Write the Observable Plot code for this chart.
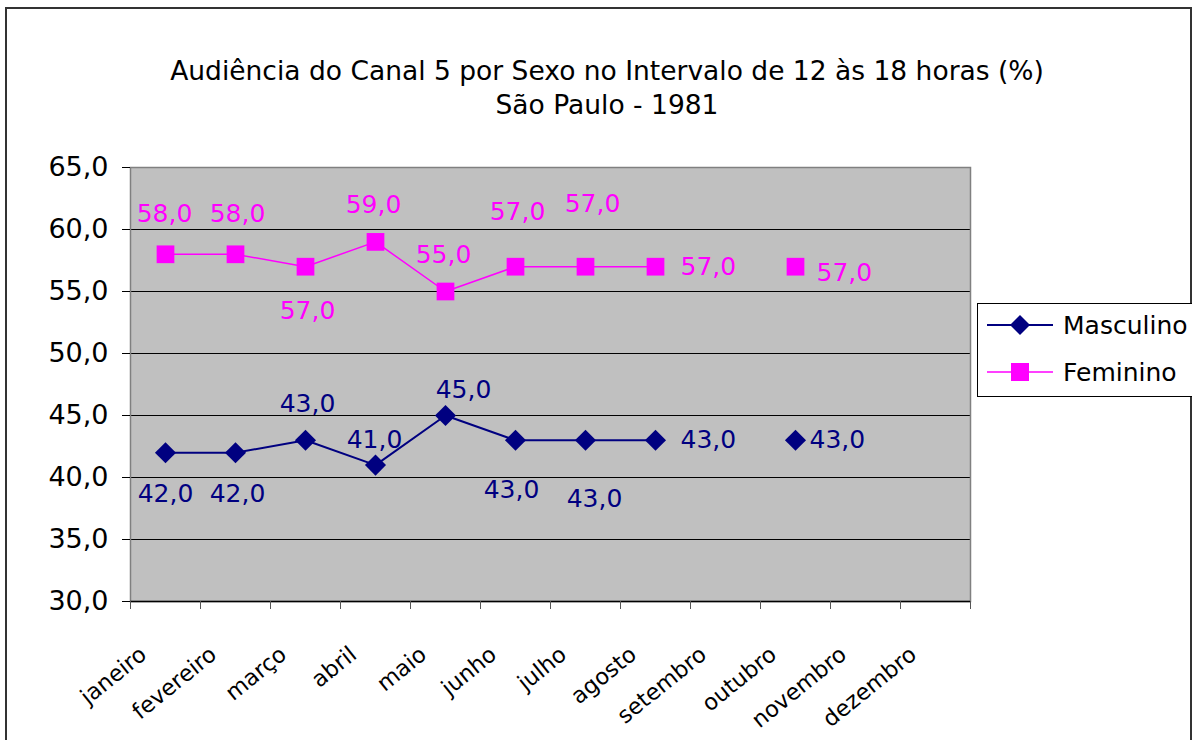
<!DOCTYPE html>
<html>
<head>
<meta charset="utf-8">
<script src="https://cdn.jsdelivr.net/npm/d3@7"></script>
<script src="https://cdn.jsdelivr.net/npm/@observablehq/plot@0.6"></script>
<style>
  body { margin: 0; background: #fff; font-family: "DejaVu Sans", sans-serif; }
  #wrap { position: relative; width: 1192px; height: 740px; overflow: hidden; }
  #border { position: absolute; left: 5px; top: 7px; width: 1183px; height: 800px; border: 2px solid #333; }
  #title { position: absolute; left: 0; width: 1214px; top: 54px; text-align: center; font-size: 26.5px; line-height: 34px; color: #000; }
  #chart { position: absolute; left: 0; top: 0; }
  #legend { position: absolute; left: 977px; top: 303px; width: 220px; height: 92px; border: 1.5px solid #000; background: #fff; }
</style>
</head>
<body>
<div id="wrap">
  <div id="border"></div>
  <div id="chart"></div>
  <div id="title">Audiência do Canal 5 por Sexo no Intervalo de 12 às 18 horas (%)<br>São Paulo - 1981</div>
  <div id="legend"></div>
</div>
<script>
const months = ["janeiro","fevereiro","março","abril","maio","junho","julho","agosto","setembro","outubro","novembro","dezembro"];
const masculino = [42,42,43,41,45,43,43,43,null,43,null,null];
const feminino  = [58,58,57,59,55,57,57,57,null,57,null,null];
const yTicks = [30,35,40,45,50,55,60,65];
const seriesNames = ["Masculino","Feminino"];
const seriesColors = ["#000080","#FF00FF"];

// label placement offsets (dx, dy, anchor), as Excel placed them
const labelPlaceM = [[0,41,"middle"],[2,41,"middle"],[2,-36,"middle"],[-1,-25,"middle"],[18,-26,"middle"],[-4,50,"middle"],[9,59,"middle"],[25,0,"start"],null,[14,0,"start"],null,null];
const labelPlaceF = [[-1,-40,"middle"],[2,-40,"middle"],[2,44,"middle"],[-2,-37,"middle"],[-2,-37,"middle"],[2,-55,"middle"],[7,-63,"middle"],[25,0,"start"],null,[21,6,"start"],null,null];

const fmt = v => v.toFixed(1).replace(".", ",");
const mk = arr => arr.map((v, i) => ({i: i + 0.5, v}));
const dataM = mk(masculino);
const dataF = mk(feminino);

const marks = [
  Plot.frame({fill: "#C0C0C0"}),
  Plot.ruleY(yTicks.filter(v => v > 30), {stroke: "#000", strokeWidth: 1}),
  Plot.frame({stroke: "#808080", strokeWidth: 1.5}),
  Plot.ruleY([30], {stroke: "#000", strokeWidth: 1.5}),
  Plot.axisY({ticks: yTicks, tickSize: 8, tickPadding: 14, tickFormat: fmt, fontSize: 27, stroke: "#000", fill: "#000", label: null}),
  Plot.axisX({ticks: d3.range(0, 13), tickSize: 8, tickFormat: () => "", stroke: "#555", label: null}),
  Plot.text(months.map((m, i) => ({i: i + 0.5, m})), {x: "i", y: () => 30, text: "m", rotate: -39, textAnchor: "end", dx: -22, dy: 50, fontSize: 22.5, fill: "#000"}),
  Plot.line(dataM, {x: "i", y: "v", stroke: seriesColors[0], strokeWidth: 2}),
  Plot.line(dataF, {x: "i", y: "v", stroke: seriesColors[1], strokeWidth: 1.5}),
  Plot.dot(dataM.filter(d => d.v != null), {x: "i", y: "v", symbol: "diamond2", r: 9.5, fill: seriesColors[0], stroke: null}),
  Plot.dot(dataF.filter(d => d.v != null), {x: "i", y: "v", symbol: "square", r: 10, fill: seriesColors[1], stroke: null})
];

function addLabels(data, place, color) {
  data.forEach((d, k) => {
    const p = place[k];
    if (d.v == null || !p) return;
    marks.push(Plot.text([d], {x: "i", y: "v", text: dd => fmt(dd.v), dx: p[0], dy: p[1], textAnchor: p[2], fontSize: 25, fill: color}));
  });
}
addLabels(dataM, labelPlaceM, seriesColors[0]);
addLabels(dataF, labelPlaceF, seriesColors[1]);

const chart = Plot.plot({
  width: 1192,
  height: 740,
  marginLeft: 130,
  marginRight: 222,
  marginTop: 167,
  marginBottom: 139,
  style: {fontFamily: "DejaVu Sans, sans-serif", background: "transparent", overflow: "visible"},
  x: {type: "linear", domain: [0, 12]},
  y: {domain: [30, 65]},
  marks
});
document.getElementById("chart").appendChild(chart);

// legend
const lg = d3.select("#legend").append("svg").attr("width", 220).attr("height", 92);
seriesNames.forEach((name, k) => {
  const y = 21 + k * 47;
  const g = lg.append("g");
  g.append("line").attr("x1", 9).attr("x2", 75).attr("y1", y).attr("y2", y).attr("stroke", seriesColors[k]).attr("stroke-width", k === 0 ? 2 : 1.5);
  if (k === 0) g.append("path").attr("d", d3.symbol(d3.symbolDiamond2, Math.PI * 81)()).attr("transform", `translate(42,${y})`).attr("fill", seriesColors[k]);
  else g.append("rect").attr("x", 33).attr("y", y - 9).attr("width", 18).attr("height", 18).attr("fill", seriesColors[k]);
  g.append("text").attr("x", 85).attr("y", y).attr("dy", "0.35em").attr("font-size", 25).attr("font-family", "DejaVu Sans, sans-serif").text(name);
});
</script>
</body>
</html>
